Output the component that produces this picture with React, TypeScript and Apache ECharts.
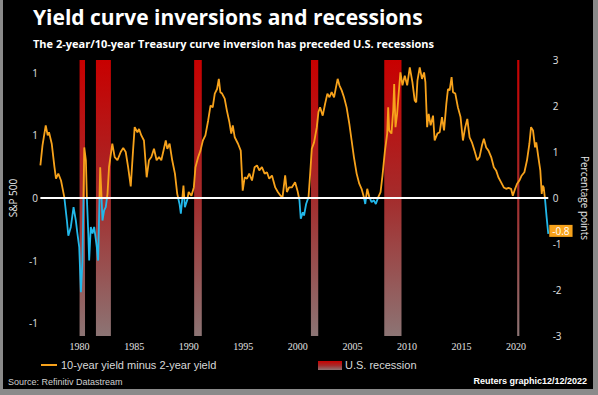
import React, { useEffect, useRef } from "react";
import * as echarts from "echarts";

const spreadYears = [
  1976.41, 1976.6, 1976.9, 1977.08, 1977.2, 1977.45, 1977.7, 1977.84, 1978.05, 1978.3,
  1978.6, 1978.84, 1978.97, 1979.2, 1979.45, 1979.66, 1979.8, 1979.97, 1980.12, 1980.27,
  1980.43, 1980.58, 1980.67, 1980.8, 1980.88, 1981.03, 1981.19, 1981.34, 1981.58, 1981.7,
  1981.89, 1982.0, 1982.1, 1982.25, 1982.4, 1982.56, 1982.7, 1983.0, 1983.22, 1983.47,
  1983.77, 1984.0, 1984.23, 1984.45, 1984.69, 1984.9, 1985.05, 1985.3, 1985.45, 1985.66,
  1985.9, 1986.15, 1986.36, 1986.58, 1986.82, 1987.06, 1987.28, 1987.49, 1987.73, 1987.9,
  1988.04, 1988.25, 1988.49, 1988.74, 1988.95, 1989.16, 1989.28, 1989.4, 1989.52, 1989.65,
  1989.86, 1990.0, 1990.25, 1990.47, 1990.62, 1990.87, 1991.08, 1991.3, 1991.53, 1991.78,
  1992.0, 1992.2, 1992.39, 1992.6, 1992.76, 1992.9, 1993.06, 1993.3, 1993.5, 1993.73,
  1993.9, 1994.04, 1994.22, 1994.52, 1994.77, 1994.95, 1995.13, 1995.34, 1995.55, 1995.8,
  1996.04, 1996.26, 1996.47, 1996.71, 1996.96, 1997.17, 1997.38, 1997.63, 1997.93, 1998.17,
  1998.42, 1998.6, 1998.84, 1999.0, 1999.2, 1999.45, 1999.75, 1999.97, 2000.15, 2000.27,
  2000.46, 2000.57, 2000.76, 2000.98, 2001.12, 2001.28, 2001.49, 2001.74, 2001.89, 2002.04,
  2002.28, 2002.5, 2002.71, 2002.9, 2003.1, 2003.32, 2003.5, 2003.65, 2003.81, 2004.02,
  2004.23, 2004.47, 2004.72, 2004.93, 2005.14, 2005.39, 2005.63, 2005.84, 2006.05, 2006.18,
  2006.36, 2006.55, 2006.76, 2006.97, 2007.15, 2007.37, 2007.58, 2007.76, 2007.97, 2008.19,
  2008.28, 2008.37, 2008.58, 2008.74, 2008.83, 2008.95, 2009.1, 2009.25, 2009.4, 2009.59,
  2009.8, 2010.02, 2010.26, 2010.5, 2010.71, 2010.85, 2010.96, 2011.17, 2011.38, 2011.57,
  2011.69, 2011.85, 2011.99, 2012.17, 2012.39, 2012.54, 2012.79, 2013.0, 2013.21, 2013.4,
  2013.61, 2013.76, 2013.91, 2014.09, 2014.22, 2014.43, 2014.67, 2014.91, 2015.13, 2015.34,
  2015.53, 2015.74, 2015.95, 2016.19, 2016.44, 2016.65, 2016.87, 2017.05, 2017.26, 2017.47,
  2017.72, 2017.96, 2018.17, 2018.38, 2018.63, 2018.87, 2019.09, 2019.3, 2019.54, 2019.7,
  2019.91, 2020.09, 2020.3, 2020.52, 2020.76, 2021.0, 2021.22, 2021.37, 2021.55, 2021.74,
  2021.85, 2022.04, 2022.22, 2022.35, 2022.44, 2022.53, 2022.65, 2022.8, 2022.95,
];
const spreadValues = [
  0.71, 1.14, 1.58, 1.36, 1.43, 1.18, 0.67, 0.42, 0.53, 0.38,
  0.02, -0.49, -0.82, -0.63, -0.2, -0.49, -0.77, -1.07, -2.05, -1.36,
  1.1, 0.82, 0.0, -0.77, -1.36, -0.63, -0.77, -0.63, -1.07, -1.36,
  0.67, 0.09, -0.49, -0.27, -0.2, 0.09, 0.67, 1.18, 0.89, 0.82,
  1.0, 1.09, 1.0, 0.67, 0.25, 1.03, 1.54, 1.43, 1.5, 1.36,
  1.25, 0.45, 0.82, 0.89, 1.07, 0.82, 0.89, 0.82, 1.07, 1.25,
  1.07, 1.18, 0.82, 0.53, 0.09, -0.13, -0.34, -0.05, 0.27, -0.2,
  -0.05, 0.13, 0.05, 0.23, 0.67, 0.89, 1.03, 1.25, 1.36, 1.68,
  2.01, 1.97, 2.27, 2.37, 2.59, 2.3, 2.27, 2.16, 1.9, 1.65,
  1.4, 1.58, 1.32, 1.18, 1.03, 0.16, 0.45, 0.42, 0.53, 0.38,
  0.67, 0.71, 0.6, 0.67, 0.53, 0.56, 0.42, 0.49, 0.23, 0.13,
  0.05, 0.02, 0.49, 0.13, 0.23, 0.23, 0.34, 0.16, -0.05, -0.45,
  -0.31, -0.38, -0.13, 0.02, 0.49, 1.07, 1.21, 1.54, 1.87, 1.97,
  1.79, 2.05, 2.27, 2.19, 2.3, 2.19, 2.41, 2.59, 2.45, 2.34,
  2.19, 1.97, 1.61, 1.25, 0.89, 0.53, 0.31, 0.2, 0.02, -0.13,
  0.2, 0.02, -0.09, -0.05, -0.13, 0.02, 0.13, 0.49, 1.0, 1.4,
  1.97, 1.47, 1.4, 1.9, 2.48, 1.54, 1.83, 2.3, 2.73, 2.45,
  2.66, 2.45, 2.84, 2.52, 2.12, 2.08, 2.55, 2.84, 2.59, 2.73,
  2.52, 1.54, 1.83, 1.58, 1.79, 1.25, 1.4, 1.43, 1.76, 1.47,
  2.05, 2.37, 2.34, 2.63, 2.3, 2.27, 1.97, 1.76, 1.25, 1.54,
  1.72, 1.32, 1.21, 1.03, 0.82, 0.89, 1.14, 1.29, 1.1, 1.03,
  0.89, 0.67, 0.6, 0.45, 0.34, 0.23, 0.2, 0.22, 0.2, 0.05,
  0.2, 0.31, 0.38, 0.49, 0.56, 0.82, 1.18, 1.54, 1.47, 1.1,
  1.21, 0.89, 0.6, 0.09, 0.27, 0.23, -0.02, -0.42, -0.78,
];
const recessionStarts = [1980.0, 1981.5, 1990.5, 2001.2, 2007.92, 2020.1];
const recessionEnds = [1980.5, 1982.87, 1991.2, 2001.87, 2009.5, 2020.3];
const yearTickLabels = ["1980", "1985", "1990", "1995", "2000", "2005", "2010", "2015", "2020"];
const leftTickValues = [2, 1, 0, -1, -2];
const leftTickLabels = ["1", "1", "0", "-1", "-1"];
const lastValueLabel = "-0.8";
const seriesName = "10-year yield minus 2-year yield";
const recessionName = "U.S. recession";

const ORANGE = "#f7a21b";
const BLUE = "#22b8ea";

export default function App() {
  const ref = useRef<HTMLDivElement>(null);
  useEffect(() => {
    document.body.style.margin = "0";
    const chart = echarts.init(ref.current!, null, { renderer: "svg" });
    const bandGradient = () =>
      new echarts.graphic.LinearGradient(0, 0, 0, 1, [
        { offset: 0, color: "#c80000" },
        { offset: 0.5, color: "#a42c2c" },
        { offset: 1, color: "#8c7474" },
      ]);
    const lineData = spreadYears.map((y, i) => [y, spreadValues[i]]);
    const firstYear = spreadYears[0];
    const lastYear = spreadYears[spreadYears.length - 1];
    const bandSeries = {
      type: "custom",
      name: recessionName,
      z: 1,
      silent: true,
      data: recessionStarts.map((s, i) => [s, recessionEnds[i]]),
      encode: { x: [0, 1] },
      renderItem: (params: any, api: any) => {
        const x0 = api.coord([api.value(0), 0])[0];
        const x1 = api.coord([api.value(1), 0])[0];
        const cs = params.coordSys;
        return {
          type: "rect",
          shape: { x: x0, y: cs.y, width: Math.max(x1 - x0, 1.5), height: cs.height },
          style: { fill: bandGradient() },
        };
      },
    };
    const option: any = {
      animation: false,
      backgroundColor: "#8a8a8a",
      textStyle: { fontFamily: "Open Sans" },
      title: {
        text: "Yield curve inversions and recessions",
        subtext: "The 2-year/10-year Treasury curve inversion has preceded U.S. recessions",
        left: 33,
        top: 6,
        itemGap: 11,
        padding: 0,
        textStyle: { color: "#ffffff", fontSize: 21, fontWeight: "bold", fontFamily: "Open Sans" },
        subtextStyle: { color: "#ffffff", fontSize: 11, fontWeight: "bold", fontFamily: "Open Sans" },
      },
      grid: { left: 22.15, right: 27.35, top: 60, bottom: 59 },
      xAxis: {
        type: "value",
        min: 1975,
        max: 2025,
        interval: 5,
        axisLine: { show: false },
        axisTick: { show: false },
        splitLine: { show: false },
        axisLabel: {
          color: "#e0e0e0",
          fontSize: 10,
          fontFamily: "Liberation Serif",
          margin: 5,
          formatter: (v: number) => {
            const s = String(Math.round(v));
            return yearTickLabels.indexOf(s) >= 0 ? s : "";
          },
        },
      },
      yAxis: [
        {
          type: "value",
          position: "right",
          offset: -20,
          min: -3,
          max: 3,
          interval: 1,
          axisLine: { show: false },
          axisTick: { show: false },
          splitLine: { show: false },
          axisLabel: { color: "#e0e0e0", fontSize: 10, margin: 2 },
          name: "Percentage points",
          nameLocation: "middle",
          nameRotate: -90,
          nameGap: 29,
          nameTextStyle: { color: "#e8e8e8", fontSize: 10 },
        },
        {
          type: "value",
          position: "left",
          offset: -16,
          min: -2.2,
          max: 2.2,
          axisLine: { show: false },
          axisTick: { show: false },
          splitLine: { show: false },
          axisLabel: {
            color: "#e0e0e0",
            fontSize: 10,
            margin: 3,
            showMinLabel: false,
            showMaxLabel: false,
            formatter: (v: number) => {
              const i = leftTickValues.findIndex((t) => Math.abs(t - v) < 1e-6);
              return i >= 0 ? leftTickLabels[i] : "";
            },
          },
          name: "S&P 500",
          nameLocation: "middle",
          nameRotate: 90,
          nameGap: 23,
          nameTextStyle: { color: "#e8e8e8", fontSize: 10 },
        },
      ],
      visualMap: {
        show: false,
        type: "piecewise",
        seriesIndex: 1,
        dimension: 1,
        pieces: [
          { gt: -10, lt: 0, color: BLUE },
          { gte: 0, lte: 10, color: ORANGE },
        ],
      },
      graphic: [
        { type: "rect", z: -10, shape: { x: 3, y: 0, width: 590, height: 389 }, style: { fill: "#000000" } },
        { type: "line", shape: { x1: 41, y1: 365, x2: 57, y2: 365 }, style: { stroke: ORANGE, lineWidth: 2 } },
        {
          type: "text",
          x: 61,
          y: 365,
          style: { text: seriesName, fill: "#d8d8d8", fontSize: 11, fontFamily: "Liberation Sans Narrow, Liberation Sans", verticalAlign: "middle" },
        },
        {
          type: "rect",
          shape: { x: 318, y: 361, width: 24, height: 9 },
          style: { fill: bandGradient() },
        },
        {
          type: "text",
          x: 345,
          y: 365,
          style: { text: recessionName, fill: "#d8d8d8", fontSize: 11, fontFamily: "Liberation Sans Narrow, Liberation Sans", verticalAlign: "middle" },
        },
        {
          type: "text",
          x: 8,
          y: 382,
          style: { text: "Source: Refinitiv Datastream", fill: "#d0d0d0", fontSize: 9, fontFamily: "Liberation Sans Narrow, Liberation Sans", verticalAlign: "middle" },
        },
        {
          type: "text",
          x: 587,
          y: 381,
          style: { text: "Reuters graphic12/12/2022", fill: "#ffffff", fontSize: 9, fontWeight: "bold", fontFamily: "Liberation Sans Narrow, Liberation Sans", align: "right", verticalAlign: "middle" },
        },
      ],
      series: [
        bandSeries,
        {
          type: "line",
          name: seriesName,
          data: lineData,
          z: 3,
          showSymbol: false,
          symbol: "none",
          lineStyle: { width: 1.8 },
          endLabel: {
            show: true,
            formatter: () => lastValueLabel,
            color: "#ffffff",
            backgroundColor: ORANGE,
            fontSize: 10,
            lineHeight: 11,
            padding: [1, 3, 0, 3],
            distance: 1,
            offset: [0, -3],
          },
        },
        {
          type: "line",
          name: "zero",
          data: [[firstYear, 0], [lastYear, 0]],
          z: 4,
          showSymbol: false,
          symbol: "none",
          lineStyle: { color: "#ffffff", width: 2 },
        },
      ],
    };
    chart.setOption(option);
    return () => chart.dispose();
  }, []);
  return <div ref={ref} style={{ width: 598, height: 395, position: "absolute", left: 0, top: 0 }} />;
}
